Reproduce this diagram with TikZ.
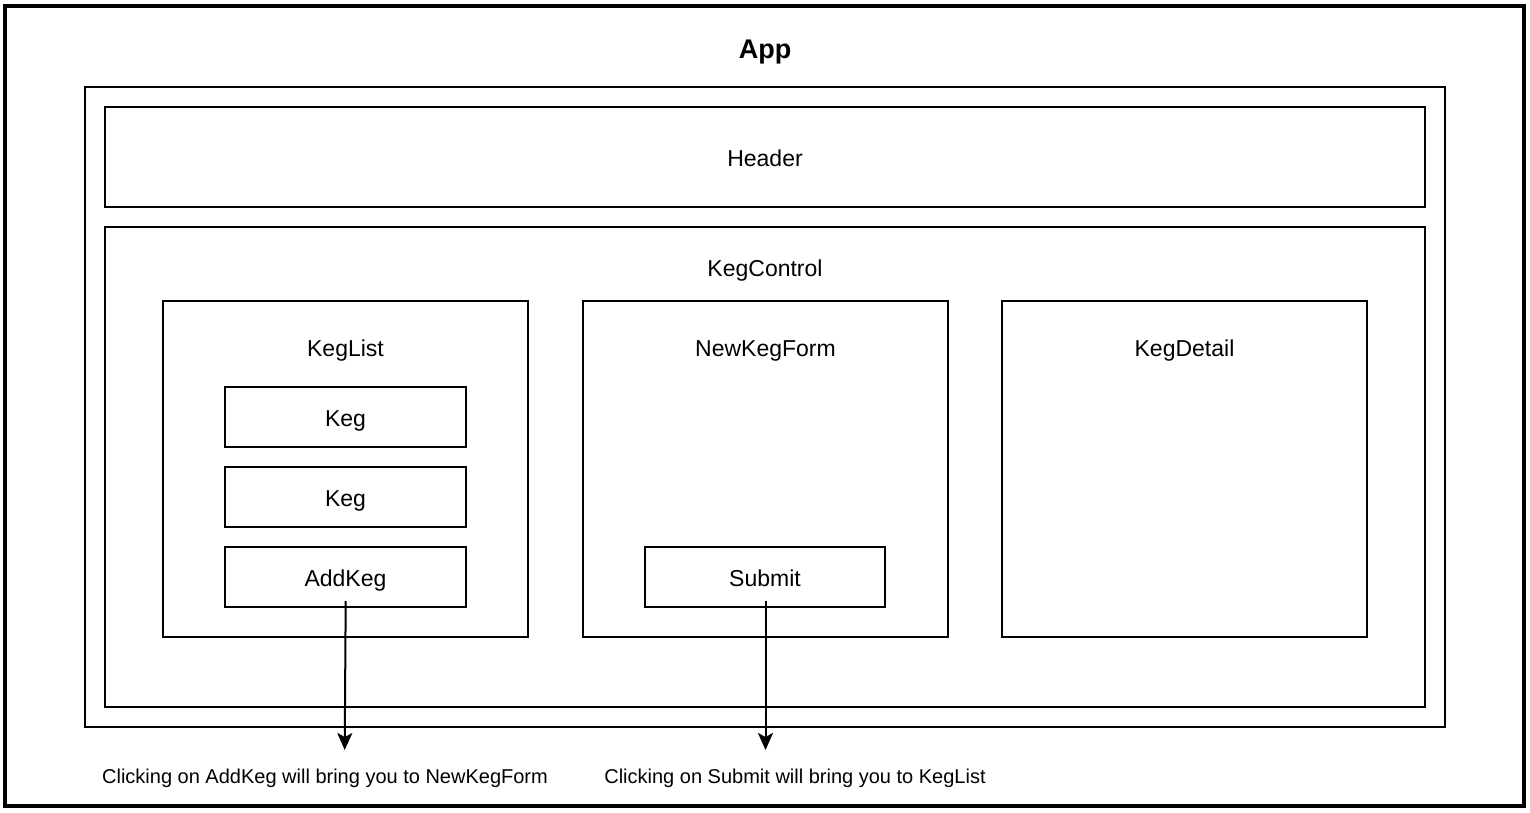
\documentclass[tikz,border=0pt]{standalone}
\usepackage{fontspec}
\setmainfont{Liberation Sans}
\usetikzlibrary{arrows.meta}
\tikzset{
  box/.style={draw, rectangle, line width=2pt, inner sep=0pt, outer sep=0pt},
  txt/.style={anchor=base, inner sep=0pt, font=\fontsize{23}{27}\selectfont},
  hint/.style={anchor=base, inner sep=0pt, font=\fontsize{20}{24}\selectfont},
}
\begin{document}
\begin{tikzpicture}[x=1pt,y=-1pt]
      \useasboundingbox (0,0) rectangle (1530,812);
      \draw
        (764.35,406) node[box, line width=4pt, minimum width=1519.3pt, minimum height=800pt] (frame){}
        (765,407) node[box, minimum width=1360pt, minimum height=640pt] (app){}
        (765,157) node[box, minimum width=1320pt, minimum height=100pt] (header){}
        (765,467) node[box, minimum width=1320pt, minimum height=480pt] (kegcontrol){}
        (345.5,469) node[box, minimum width=365pt, minimum height=336pt] (keglist){}
        (765.5,469) node[box, minimum width=365pt, minimum height=336pt] (newkegform){}
        (1184.5,469) node[box, minimum width=365pt, minimum height=336pt] (kegdetail){}
        (345.5,417) node[box, minimum width=241pt, minimum height=60pt] (keg1){}
        (345.5,497) node[box, minimum width=241pt, minimum height=60pt] (keg2){}
        (345.5,577) node[box, minimum width=241pt, minimum height=60pt] (addkeg){}
        (765,577) node[box, minimum width=240pt, minimum height=60pt] (submit){};
      \draw
        (765,58.3) node[txt, font=\bfseries\fontsize{27}{32}\selectfont] (apptext){App}
        (765,166) node[txt] (headertext){Header}
        (765,276) node[txt] (kegcontroltext){KegControl}
        (345.5,356) node[txt] (keglisttext){KegList}
        (765.5,356) node[txt] (newkegformtext){NewKegForm}
        (1184.5,356) node[txt] (kegdetailtext){KegDetail}
        (345.5,426.5) node[txt] (keg1text){Keg}
        (345.5,506.5) node[txt] (keg2text){Keg}
        (345.5,586.5) node[txt] (addkegtext){AddKeg}
        (765,586.5) node[txt] (submittext){Submit}
        (325,783.3) node[hint] (addkeghint){Clicking on AddKeg will bring you to NewKegForm}
        (795,783.3) node[hint] (submithint){Clicking on Submit will bring you to KegList};
      \coordinate (addkegend) at (344.7,750);
      \coordinate (submitend) at (765.5,750);
      \begin{scope}[-{Stealth[length=17pt,width=15pt,inset=4pt]}, line width=2pt]
        \draw ([xshift=0.2pt,yshift=-24pt]addkeg.center) to (addkegend);
        \draw ([xshift=0.5pt,yshift=-24pt]submit.center) to (submitend);
      \end{scope}
    \end{tikzpicture}
\end{document}
